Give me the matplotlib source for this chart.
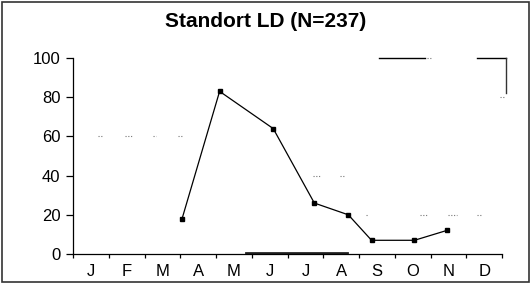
import matplotlib.pyplot as plt
from matplotlib.patches import Rectangle

MONTHS = ["J", "F", "M", "A", "M", "J", "J", "A", "S", "O", "N", "D"]
Y_TICKS = [0, 20, 40, 60, 80, 100]

# measured series (x in months from start of January)
LD_X = [3.05, 4.1, 5.6, 6.75, 7.7, 8.35, 9.55, 10.45]
LD_Y = [18, 83, 64, 26, 20, 7, 7, 12]

# scan remnants of the dotted reference lines: (x start, x end, level)
DOT_MARKS = [
    (0.7, 0.85, 60), (1.45, 1.65, 60), (2.25, 2.32, 60), (2.95, 3.08, 60),
    (6.7, 6.9, 40), (7.48, 7.58, 40),
    (8.2, 8.24, 20), (9.7, 9.9, 20), (10.5, 10.75, 20), (11.3, 11.42, 20),
    (9.9, 10.02, 100), (11.95, 12.05, 80),
]
# solid remnants: (x start, x end, level)
SOLID_MARKS = [(8.55, 9.85, 100), (11.3, 12.12, 100)]
VERT_MARK = (12.12, 82, 100)
BASE_MARK = (4.85, 7.65)


def main():
    plt.rcParams['font.family'] = ['Liberation Sans', 'DejaVu Sans']
    fig = plt.figure(figsize=(5.31, 2.84), dpi=100)
    fig.patches.append(Rectangle((0.004, 0.007), 0.992, 0.986, transform=fig.transFigure,
                                 fill=False, ec='#333333', lw=1.2))
    fig.text(0.5, 0.925, "Standort LD (N=237)", ha='center', va='center',
             fontsize=15, fontweight='bold')

    ax = fig.add_axes([0.1375, 0.1056, 0.808, 0.69])
    ax.set_xlim(0, 12)
    ax.set_ylim(0, 100)
    for s in ('top', 'right'):
        ax.spines[s].set_visible(False)
    ax.spines['left'].set_linewidth(0.9)
    ax.spines['bottom'].set_linewidth(0.9)

    ax.set_yticks(Y_TICKS)
    ax.tick_params(axis='y', length=5, width=0.9, pad=4, labelsize=12)
    ax.set_xticks(range(13))
    ax.set_xticklabels([])
    ax.set_xticks([m + 0.5 for m in range(12)], minor=True)
    ax.set_xticklabels(MONTHS, minor=True, fontsize=12)
    ax.tick_params(axis='x', which='major', length=3, width=0.9)
    ax.tick_params(axis='x', which='minor', length=0, pad=7)

    ax.plot(LD_X, LD_Y, color='black', lw=0.9, marker='s', ms=3.2, clip_on=False)

    for x0, x1, y in DOT_MARKS:
        ax.plot([x0, x1], [y, y], color='#777777', lw=0.8, ls=(0, (1, 1.5)), clip_on=False)
    for x0, x1, y in SOLID_MARKS:
        ax.plot([x0, x1], [y, y], color='black', lw=1.0, clip_on=False)
    ax.plot([VERT_MARK[0], VERT_MARK[0]], [VERT_MARK[1], VERT_MARK[2]], color='#333333',
            lw=1.0, clip_on=False)
    ax.plot(BASE_MARK, [0.4, 0.4], color='#222222', lw=2.0, clip_on=False)

    fig.savefig('out.png', dpi=100)
    plt.close()


if __name__ == '__main__':
    main()
